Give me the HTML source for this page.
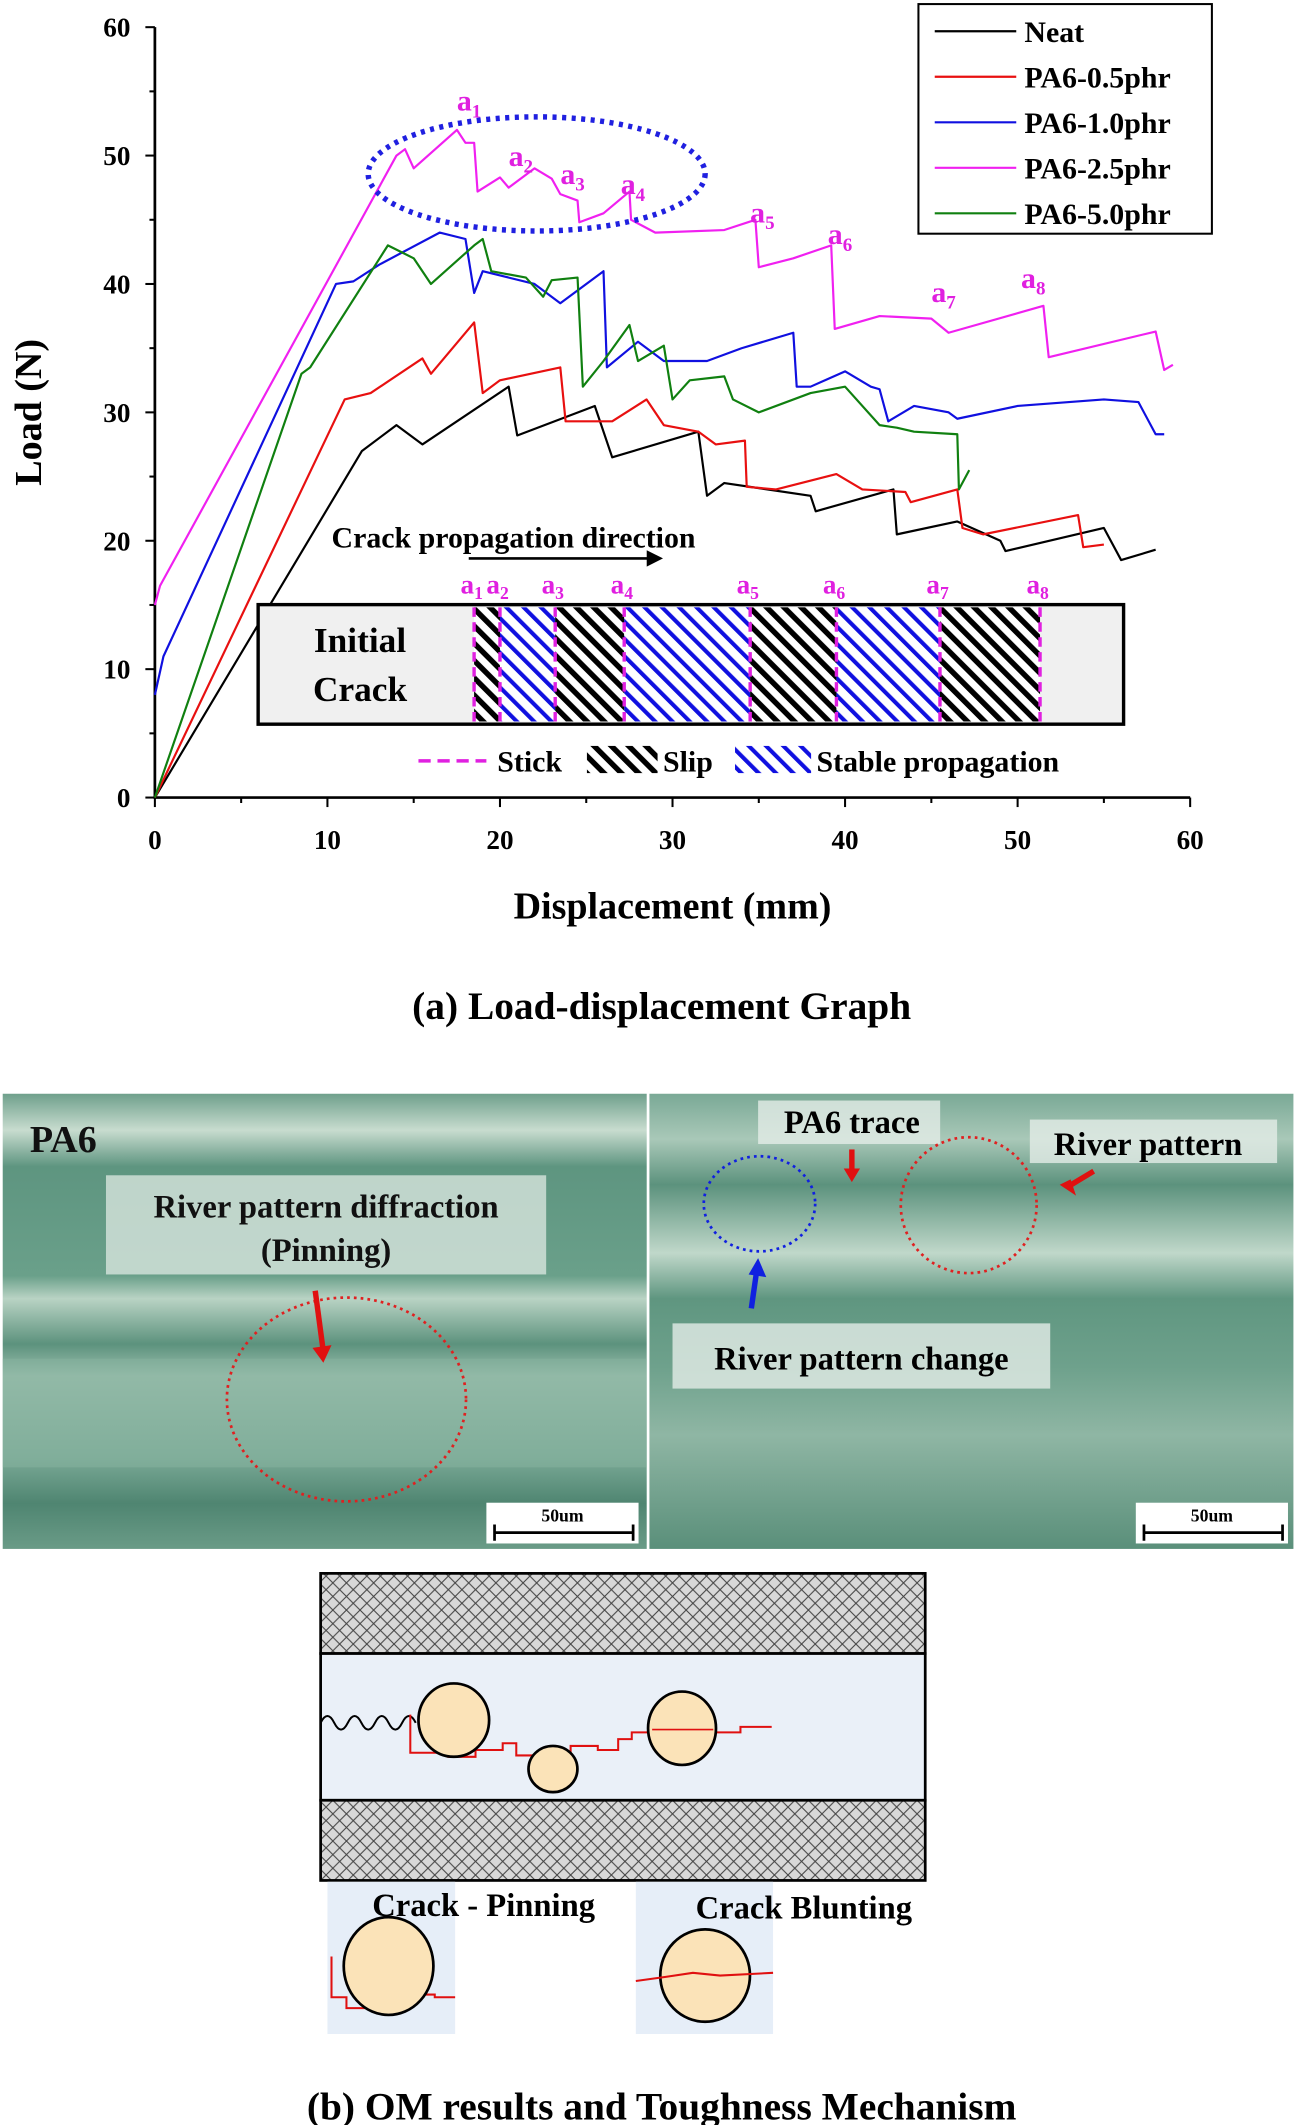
<!DOCTYPE html>
<html><head><meta charset="utf-8"><style>
html,body{margin:0;padding:0;background:#fff;}
svg{display:block;}
text{font-family:"Liberation Serif",serif;font-weight:bold;}
</style></head><body>
<svg id="fig" width="1307" height="2125" viewBox="0 0 962 1564" preserveAspectRatio="none" xmlns="http://www.w3.org/2000/svg">
<defs>
<pattern id="hb" width="9" height="9" patternUnits="userSpaceOnUse" patternTransform="rotate(-45)"><rect width="9" height="9" fill="#fff"/><rect width="4" height="9" fill="#000"/></pattern>
<pattern id="hbl" width="9" height="9" patternUnits="userSpaceOnUse" patternTransform="rotate(-45)"><rect width="9" height="9" fill="#fff"/><rect width="3" height="9" fill="#1010e0"/></pattern>
<pattern id="xh" width="10" height="10" patternUnits="userSpaceOnUse"><rect width="10" height="10" fill="#d8d8d8"/><path d="M0 0L10 10M10 0L0 10" stroke="#444" stroke-width="0.8"/></pattern>
<linearGradient id="ph1" x1="0" y1="0" x2="0" y2="1">
<stop offset="0" stop-color="#6fa08c"/><stop offset="0.08" stop-color="#c8dccf"/><stop offset="0.16" stop-color="#5e9580"/><stop offset="0.4" stop-color="#6aa08a"/><stop offset="0.45" stop-color="#b9d3c4"/><stop offset="0.55" stop-color="#5c927d"/><stop offset="0.62" stop-color="#9cbfae"/><stop offset="0.8" stop-color="#7aa996"/><stop offset="0.9" stop-color="#4f8571"/><stop offset="1" stop-color="#6a9b87"/></linearGradient>
<linearGradient id="ph2" x1="0" y1="0" x2="0" y2="1">
<stop offset="0" stop-color="#7aa996"/><stop offset="0.1" stop-color="#a9c8b8"/><stop offset="0.2" stop-color="#5c927d"/><stop offset="0.35" stop-color="#c0d8ca"/><stop offset="0.45" stop-color="#5f9680"/><stop offset="0.6" stop-color="#6ea18c"/><stop offset="0.75" stop-color="#8fb6a4"/><stop offset="1" stop-color="#5a8f7a"/></linearGradient>
</defs>
<g id="chart"></g>
<!-- caption a -->
<text x="487" y="750" font-size="29" text-anchor="middle">(a) Load-displacement Graph</text>

<!-- photos -->
<g>
<rect x="2" y="805" width="474" height="335" fill="url(#ph1)"/>
<rect x="2" y="1000" width="474" height="80" fill="#88b3a0" opacity="0.5"/>
<text x="22" y="848" font-size="28" fill="#111">PA6</text>
<rect x="78" y="865" width="324" height="73" fill="#dfe9e3" opacity="0.75"/>
<text x="240" y="896" font-size="24" text-anchor="middle" fill="#111">River pattern diffraction</text>
<text x="240" y="928" font-size="24" text-anchor="middle" fill="#111">(Pinning)</text>
<ellipse cx="255" cy="1030" rx="88" ry="75" fill="none" stroke="#e02020" stroke-width="2" stroke-dasharray="2 3"/>
<path d="M232 950L238 995" stroke="#e01010" stroke-width="4"/><path d="M230 992L238 1003L244 990Z" fill="#e01010"/>
<rect x="358" y="1106" width="112" height="30" fill="#fff"/>
<text x="414" y="1120" font-size="13" text-anchor="middle">50um</text>
<path d="M364 1128H466M364 1122V1134M466 1122V1134" stroke="#000" stroke-width="2"/>
</g>
<g>
<rect x="478" y="805" width="474" height="335" fill="url(#ph2)"/>
<rect x="558" y="810" width="134" height="32" fill="#e4ece7" opacity="0.8"/>
<text x="627" y="834" font-size="24" text-anchor="middle">PA6 trace</text>
<rect x="758" y="824" width="182" height="32" fill="#e4ece7" opacity="0.8"/>
<text x="845" y="850" font-size="24" text-anchor="middle">River pattern</text>
<ellipse cx="559" cy="886" rx="41" ry="35" fill="none" stroke="#1020e0" stroke-width="2" stroke-dasharray="2 3"/>
<ellipse cx="713" cy="887" rx="50" ry="50" fill="none" stroke="#e02020" stroke-width="2" stroke-dasharray="2 3"/>
<path d="M627 846V862" stroke="#e01010" stroke-width="4"/><path d="M621 860L627 870L633 860Z" fill="#e01010"/>
<path d="M805 862L785 874" stroke="#e01010" stroke-width="4"/><path d="M780 872L792 880L788 868Z" fill="#e01010"/>
<path d="M553 963L557 935" stroke="#1020e0" stroke-width="4"/><path d="M551 938L558 926L564 940Z" fill="#1020e0"/>
<rect x="495" y="974" width="278" height="48" fill="#e4ece7" opacity="0.8"/>
<text x="634" y="1008" font-size="24" text-anchor="middle">River pattern change</text>
<rect x="836" y="1106" width="112" height="30" fill="#fff"/>
<text x="892" y="1120" font-size="13" text-anchor="middle">50um</text>
<path d="M842 1128H944M842 1122V1134M944 1122V1134" stroke="#000" stroke-width="2"/>
</g>

<!-- mechanism diagram -->
<g>
<rect x="236" y="1158" width="445" height="59" fill="url(#xh)" stroke="#000" stroke-width="2"/>
<rect x="236" y="1217" width="445" height="108" fill="#eaf0f8" stroke="#000" stroke-width="2"/>
<rect x="236" y="1325" width="445" height="59" fill="url(#xh)" stroke="#000" stroke-width="2"/>
<path d="M236 1268q5 -10 10 0t10 0t10 0t10 0t10 0t10 0t10 0" fill="none" stroke="#000" stroke-width="1.5"/>
<path d="M302 1262V1290H330V1293H350V1288H370V1283H380V1292H395V1295H420V1285H440V1288H455V1280H465V1275H490V1273H520V1275H545V1271H568" fill="none" stroke="#e01010" stroke-width="1.5"/>
<ellipse cx="334" cy="1266" rx="26" ry="27" fill="#fbe3b8" stroke="#000" stroke-width="2"/>
<ellipse cx="407" cy="1302" rx="18" ry="17" fill="#fbe3b8" stroke="#000" stroke-width="2"/>
<ellipse cx="502" cy="1272" rx="25" ry="27" fill="#fbe3b8" stroke="#000" stroke-width="2"/>
<path d="M480 1273H525" stroke="#e01010" stroke-width="1.2"/>
<rect x="241" y="1385" width="94" height="112" fill="#e6eef8"/>
<rect x="468" y="1385" width="101" height="112" fill="#e6eef8"/>
<path d="M244 1440V1470H255V1478H280V1472H300V1468H320V1470H335" fill="none" stroke="#e01010" stroke-width="1.5"/>
<ellipse cx="286" cy="1447" rx="33" ry="36" fill="#fbe3b8" stroke="#000" stroke-width="2"/>
<ellipse cx="519" cy="1454" rx="33" ry="34" fill="#fbe3b8" stroke="#000" stroke-width="2"/>
<path d="M468 1458L490 1455L510 1452L530 1454L569 1452" fill="none" stroke="#e01010" stroke-width="1.5"/>
<text x="274" y="1410" font-size="24">Crack - Pinning</text>
<text x="512" y="1412" font-size="24">Crack  Blunting</text>
</g>
<text x="487" y="1560" font-size="29" text-anchor="middle">(b) OM results and Toughness Mechanism</text>
</svg>
<script>
// ---- chart data ----
const xTicks = [0,10,20,30,40,50,60];
const yTicks = [0,10,20,30,40,50,60];
const seriesNames = ["Neat","PA6-0.5phr","PA6-1.0phr","PA6-2.5phr","PA6-5.0phr"];
const seriesColors = ["#000000","#e81010","#1010e0","#f020f0","#108010"];
const neatX = [0,12,14,15.5,20.5,21,25.5,26.5,31.5,32,33,38,38.3,42.8,43,46.5,49,49.3,55,56,58];
const neatY = [0,27,29,27.5,32,28.2,30.5,26.5,28.5,23.5,24.5,23.5,22.3,24,20.5,21.5,20,19.2,21,18.5,19.3];
const p05X = [0,11,12.5,15.5,16,18.5,19,20,23.5,23.8,26.5,28.5,29.5,31.5,32.5,34.2,34.3,36,39.5,41,43.5,43.8,46.5,46.8,48,53.5,53.8,55];
const p05Y = [0,31,31.5,34.2,33,37,31.5,32.5,33.5,29.3,29.3,31,29,28.5,27.5,27.8,24.2,24,25.2,24,23.8,23,24,21,20.5,22,19.5,19.7];
const p10X = [0,0.5,10.5,11.5,13,16.5,18,18.5,19,22,23.5,26,26.2,28,29.5,32,34,37,37.2,38,40,41.5,42,42.5,44,46,46.5,50,55,57,58,58.5];
const p10Y = [8,11,40,40.2,41.5,44,43.5,39.3,41,40,38.5,41,33.5,35.5,34,34,35,36.2,32,32,33.2,32,31.8,29.3,30.5,30,29.5,30.5,31,30.8,28.3,28.3];
const p25X = [0,0.3,14,14.5,15,17.5,18,18.5,18.7,20,20.5,22,23,23.5,24.5,24.6,26,27.5,27.6,29,33,34.8,35,37,39.2,39.4,42,45,46,51.5,51.8,58,58.5,59];
const p25Y = [15,16.5,50,50.5,49,52,51,51,47.2,48.3,47.5,49,48.2,47,46.5,44.8,45.5,47.2,45,44,44.2,45,41.3,42,43,36.5,37.5,37.3,36.2,38.3,34.3,36.3,33.3,33.7];
const p50X = [0,8.5,9,13.5,15,16,18.5,19,19.5,21.5,22.5,23,24.5,24.8,26,27.5,28,29.5,30,31,33,33.5,35,38,40,42,43,44,46.5,46.6,47.2];
const p50Y = [0,33,33.5,43,42,40,43,43.5,41,40.5,39,40.3,40.5,32,34,36.8,34,35.2,31,32.5,32.8,31,30,31.5,32,29,28.8,28.5,28.3,24,25.5];
const stickLabels = ["a1","a2","a3","a4","a5","a6","a7","a8"];
const stickX = [18.5,20,23.2,27.2,34.5,39.5,45.5,51.3];
const stickKind = ["slip","stable","slip","stable","slip","stable","slip"];
const peakLabelX = [17.5,20.5,23.5,27.0,34.5,39.0,45.0,50.2];
const peakLabelY = [53.5,49.2,47.8,47.0,44.8,43.1,38.6,39.7];

const NS="http://www.w3.org/2000/svg";
const g=document.getElementById('chart');
const X0=114,X1=876,Y0=587,Y1=20;
function sx(v){return X0+(v-0)/(60-0)*(X1-X0);}
function sy(v){return Y0-(v-0)/(60-0)*(Y0-Y1);}
function mk(tag,attrs,parent){const e=document.createElementNS(NS,tag);for(const k in attrs)e.setAttribute(k,attrs[k]);(parent||g).appendChild(e);return e;}
function txt(x,y,s,size,attrs){const t=mk('text',Object.assign({x:x,y:y,'font-size':size},attrs||{}));t.textContent=s;return t;}

// axes
const ax=mk('path',{d:`M${X0} ${Y1}V${Y0}H${X1}`,stroke:'#000','stroke-width':2,fill:'none'});


xTicks.forEach((v,i)=>{
  mk('path',{d:`M${sx(v)} ${Y0}v7`,stroke:'#000','stroke-width':1.5});
  if(i<xTicks.length-1) mk('path',{d:`M${sx(v+5)} ${Y0}v4`,stroke:'#000','stroke-width':1.5});
  const t=txt(sx(v),Y0+38,String(v),20,{'text-anchor':'middle'});
  
  
});
yTicks.forEach((v,i)=>{
  mk('path',{d:`M${X0} ${sy(v)}h-7`,stroke:'#000','stroke-width':1.5});
  if(i<yTicks.length-1) mk('path',{d:`M${X0} ${sy(v+5)}h-4`,stroke:'#000','stroke-width':1.5});
  const t=txt(X0-18,sy(v)+7,String(v),20,{'text-anchor':'end'});
  
  
});
const xt=txt(495,676,'Displacement (mm)',28,{'text-anchor':'middle'});


const yt=txt(0,0,'Load (N)',28,{'text-anchor':'middle',transform:`translate(30 ${(Y0+Y1)/2}) rotate(-90)`});



// series
const allX=[neatX,p05X,p10X,p25X,p50X], allY=[neatY,p05Y,p10Y,p25Y,p50Y];
allX.forEach((xs,si)=>{
  const d=xs.map((x,i)=>(i?'L':'M')+sx(x).toFixed(1)+' '+sy(allY[si][i]).toFixed(1)).join('');
  const p=mk('path',{d:d,fill:'none',stroke:seriesColors[si],'stroke-width':1.6,'stroke-linejoin':'round'});
  
  
});

// ellipse highlight
const el=mk('ellipse',{cx:395,cy:128,rx:124,ry:42,fill:'none',stroke:'#2020e0','stroke-width':4,'stroke-dasharray':'3 4'});



// peak labels
stickLabels.forEach((s,i)=>{
  const t=mk('text',{x:sx(peakLabelX[i]),y:sy(peakLabelY[i]),'font-size':22,fill:'#e020e0'});
  t.innerHTML=s[0]+'<tspan font-size="14" dy="5">'+s.slice(1)+'</tspan>';
  
  
});

// inset box
const ib=mk('rect',{x:190,y:445,width:637,height:88,fill:'#f0f0f0',stroke:'#000','stroke-width':2.5});


txt(265,480,'Initial',26,{'text-anchor':'middle'});
txt(265,516,'Crack',26,{'text-anchor':'middle'});
stickKind.forEach((k,i)=>{
  const r=mk('rect',{x:sx(stickX[i]),y:447,width:sx(stickX[i+1])-sx(stickX[i]),height:84,fill:k==='slip'?'url(#hb)':'url(#hbl)'});
  
  
});
stickX.forEach((x,i)=>{
  const l=mk('path',{d:`M${sx(x)} 447V531`,stroke:'#e020e0','stroke-width':2.5,'stroke-dasharray':'7 4'});
  
  
  const t=mk('text',{x:sx(x)-10,y:437,'font-size':20,fill:'#e020e0'});
  t.innerHTML=stickLabels[i][0]+'<tspan font-size="13" dy="4">'+stickLabels[i].slice(1)+'</tspan>';
});
txt(244,403,'Crack propagation direction',22);
mk('path',{d:'M345 411H478',stroke:'#000','stroke-width':2});
mk('path',{d:'M476 405L488 411L476 417Z',fill:'#000'});
// inset legend
mk('path',{d:'M308 560H358',stroke:'#e020e0','stroke-width':2.5,'stroke-dasharray':'9 5'});
txt(366,568,'Stick',22);
mk('rect',{x:432,y:549,width:52,height:20,fill:'url(#hb)'});
txt(488,568,'Slip',22);
mk('rect',{x:541,y:549,width:56,height:20,fill:'url(#hbl)'});
txt(601,568,'Stable propagation',22);

// legend
const lg=mk('rect',{x:676,y:3,width:216,height:169,fill:'#fff',stroke:'#000','stroke-width':1.5});


seriesNames.forEach((n,i)=>{
  const y=23+i*33.5;
  mk('path',{d:`M688 ${y}H748`,stroke:seriesColors[i],'stroke-width':1.6});
  const t=txt(754,y+8,n,22);
  
  
});
</script>
</body></html>
